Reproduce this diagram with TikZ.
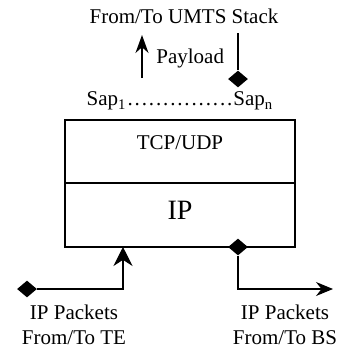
\documentclass[tikz,border=0pt]{standalone}
\usepackage{fontspec}
\setmainfont{Liberation Serif}
\usetikzlibrary{arrows.meta,positioning,shapes.geometric}

\begin{document}
\begin{tikzpicture}[
      x=0.5pt,y=-0.5pt,
      >={Stealth[length=9.5pt,width=9.5pt]},
      txt/.style={inner sep=0pt,font=\fontsize{10.5}{12.5}\selectfont,align=center},
      layer/.style={draw,line width=0.8pt,minimum width=115pt,inner sep=0pt},
      link/.style={line width=0.9pt},
      thinlink/.style={line width=0.55pt},
      port/.style={diamond,fill=black,inner sep=0pt,minimum width=10pt,minimum height=8.5pt}
    ]
    \path[use as bounding box] (0,0) rectangle (342,350);
    \node[txt] (umts) at (184,16) {From/To UMTS Stack};
    \node[txt] (saps) at (180,101)
      {Sap\textsubscript{1}\xleaders\hbox to 3.35pt{\hss.\hss}\hskip 53.5pt Sap\textsubscript{n}};

    % protocol layers
    \node[layer,minimum height=31.5pt] (tcp) at (180,151.5) {};
    \node[layer,minimum height=32pt] (ip) at (180,215) {};
    \node[txt] (tcplbl) at (180,143) {TCP/UDP};
    \node[txt,font=\fontsize{14}{16}\selectfont] (iplbl) at (180,210) {IP};

    % towards the UMTS stack
    \coordinate (payS) at (142,78);
    \coordinate (payE) at (142,35);
    \draw[link,->,>={Stealth[length=9pt,width=6.5pt]}] (payS) -- (payE);
    \node[txt,anchor=west] (pay) at (156,58) {Payload};
    \node[port] (sapn) at (238,79) {};
    \coordinate (down) at (238,33);
    \draw[link] (down) -- (sapn.north);

    % IP packets
    \node[port] (te) at (27,289) {};
    \coordinate (inTE) at (123,247);
    \draw[thinlink,->] (te.east) -| (inTE);
    \node[port] (bs) at (238,247) {};
    \coordinate (outBS) at (333,289);
    \draw[thinlink,->,>={Stealth[length=8.5pt,width=7pt]}] (bs.south) |- (outBS);
    \node[txt] (telbl) at (74,324.5) {IP Packets\\From/To TE};
    \node[txt] (bslbl) at (285,324.5) {IP Packets\\From/To BS};
  \end{tikzpicture}
\end{document}
